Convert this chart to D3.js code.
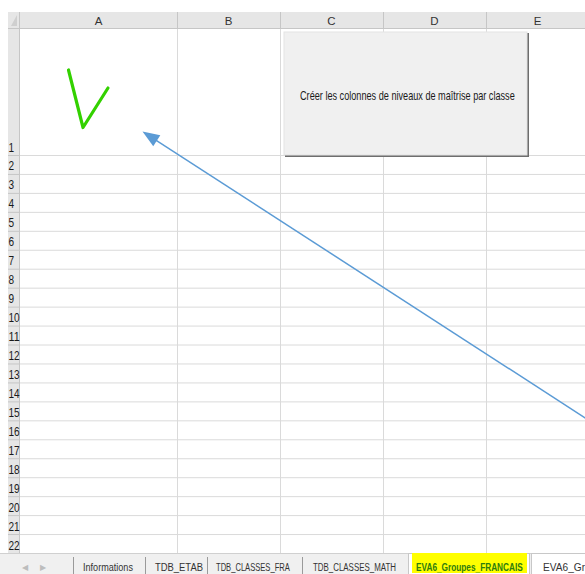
<!DOCTYPE html>
<html><head><meta charset="utf-8">
<script src="https://cdn.jsdelivr.net/npm/d3@7"></script>
<style>html,body{margin:0;padding:0;background:#fff;overflow:hidden}</style>
</head><body>
<script>
// ---- data ----
const columns = ["A", "B", "C", "D", "E"];
const columnEdges = [20, 177, 280, 383, 486, 589];
const rowLabels = ["1","2","3","4","5","6","7","8","9","10","11","12","13","14","15","16","17","18","19","20","21","22"];
const sheetTabs = ["Informations", "TDB_ETAB", "TDB_CLASSES_FRA", "TDB_CLASSES_MATH", "EVA6_Groupes_FRANCAIS", "EVA6_Groupes_MATHS"];
const activeTab = "EVA6_Groupes_FRANCAIS";
const buttonLabel = "Créer les colonnes de niveaux de maîtrise par classe";

const W = 585, H = 574;
const FONT = "'Liberation Sans','DejaVu Sans',sans-serif";
const svg = d3.select("body").append("svg").attr("width", W).attr("height", H)
  .style("font-family", FONT);

// squeeze a text horizontally to a target width (condensed look like Calibri)
function fit(sel, x, y, width) {
  sel.each(function (d) {
    const node = this;
    const nat = node.getComputedTextLength();
    const tx = typeof x === "function" ? x(d) : x;
    const ty = typeof y === "function" ? y(d) : y;
    const tw = typeof width === "function" ? width(d) : width;
    d3.select(node).attr("x", 0).attr("y", 0)
      .attr("transform", `translate(${tx},${ty}) scale(${tw / nat},1)`);
  });
}

const headerTop = 12, headerBottom = 29, gridLeft = 20, rowHeadLeft = 8;
const tabTop = 553;

// scales
const xLeft = d3.scaleOrdinal().domain(columns).range(columnEdges.slice(0, 5));
const xRight = d3.scaleOrdinal().domain(columns).range(columnEdges.slice(1));
const yBottom = d3.scaleLinear().domain([1, 22]).range([155, 553]);

svg.append("rect").attr("x", 0).attr("y", 0).attr("width", W).attr("height", H).attr("fill", "#fff");

// vertical grid lines
svg.append("g").selectAll("line").data(columns).join("line")
  .attr("x1", c => xRight(c) + 0.5).attr("x2", c => xRight(c) + 0.5)
  .attr("y1", headerBottom).attr("y2", tabTop)
  .attr("stroke", "#dadada");
// horizontal grid lines
svg.append("g").selectAll("line").data(rowLabels).join("line")
  .attr("x1", gridLeft).attr("x2", W)
  .attr("y1", d => yBottom(+d) + 0.5).attr("y2", d => yBottom(+d) + 0.5)
  .attr("stroke", "#dadada");

// column header
svg.append("rect").attr("x", rowHeadLeft).attr("y", headerTop).attr("width", W - rowHeadLeft).attr("height", headerBottom - headerTop)
  .attr("fill", "#e6e6e6");
svg.append("line").attr("x1", rowHeadLeft).attr("x2", W).attr("y1", headerBottom - 0.5).attr("y2", headerBottom - 0.5).attr("stroke", "#c6c6c6");
const colG = svg.append("g");
colG.selectAll("line").data(columns).join("line")
  .attr("x1", c => xRight(c) + 0.5).attr("x2", c => xRight(c) + 0.5)
  .attr("y1", headerTop).attr("y2", headerBottom).attr("stroke", "#c6c6c6");
colG.selectAll("text").data(columns).join("text")
  .attr("x", c => (xLeft(c) + xRight(c)) / 2).attr("y", 24.5)
  .attr("text-anchor", "middle").attr("font-size", 11.5).attr("fill", "#333")
  .text(c => c);

// row header
svg.append("rect").attr("x", rowHeadLeft).attr("y", headerBottom).attr("width", gridLeft - rowHeadLeft).attr("height", tabTop - headerBottom)
  .attr("fill", "#e6e6e6");
svg.append("line").attr("x1", gridLeft - 0.5).attr("x2", gridLeft - 0.5).attr("y1", headerTop).attr("y2", tabTop).attr("stroke", "#c6c6c6");
const rowG = svg.append("g");
rowG.selectAll("line").data(rowLabels).join("line")
  .attr("x1", rowHeadLeft).attr("x2", gridLeft)
  .attr("y1", d => yBottom(+d) + 0.5).attr("y2", d => yBottom(+d) + 0.5).attr("stroke", "#c6c6c6");
rowG.selectAll("text").data(rowLabels).join("text")
  .attr("font-size", 12.5).attr("fill", "#1a1a1a")
  .text(d => d)
  .call(fit, rowHeadLeft + 0.5, d => yBottom(+d) - 3.5, d => d.length * 5.6);
// select-all corner triangle
svg.append("path").attr("d", `M${gridLeft - 3},${headerTop + 3} L${gridLeft - 3},${headerBottom - 3} L${rowHeadLeft + 3},${headerBottom - 3} Z`)
  .attr("fill", "#cfcfcf");

// green check mark
const checkPts = [[68.5, 70], [83, 127.5], [108, 88]];
svg.append("path").attr("d", d3.line()(checkPts))
  .attr("fill", "none").attr("stroke", "#33d100").attr("stroke-width", 3.2)
  .attr("stroke-linecap", "round").attr("stroke-linejoin", "round");

// button
const btn = {x: 284, y: 32, w: 244, h: 124};
svg.append("rect").attr("x", btn.x + 1).attr("y", btn.y + 1).attr("width", btn.w).attr("height", btn.h).attr("fill", "#6e6e6e");
svg.append("rect").attr("x", btn.x).attr("y", btn.y).attr("width", btn.w - 1).attr("height", btn.h - 1).attr("fill", "#f0f0f0")
  .attr("stroke", "#e3e3e3").attr("stroke-width", 1);
svg.append("text")
  .attr("font-size", 12).attr("fill", "#1a1a1a")
  .text(buttonLabel)
  .call(fit, 300, 99.5, 215);

// arrow
const tip = [142.5, 131.5], tail = [600, 427.5];
const ang = Math.atan2(tail[1] - tip[1], tail[0] - tip[0]);
const headLen = 17, headHalf = 6.5;
const base = [tip[0] + headLen * Math.cos(ang), tip[1] + headLen * Math.sin(ang)];
svg.append("line").attr("x1", base[0] - 3 * Math.cos(ang)).attr("y1", base[1] - 3 * Math.sin(ang))
  .attr("x2", tail[0]).attr("y2", tail[1]).attr("stroke", "#5b9bd5").attr("stroke-width", 1.5);
const p1 = [base[0] - headHalf * Math.sin(ang), base[1] + headHalf * Math.cos(ang)];
const p2 = [base[0] + headHalf * Math.sin(ang), base[1] - headHalf * Math.cos(ang)];
svg.append("path").attr("d", `M${tip}L${p1}L${p2}Z`).attr("fill", "#5b9bd5");

// tab bar
svg.append("rect").attr("x", 0).attr("y", tabTop).attr("width", W).attr("height", H - tabTop).attr("fill", "#f0f0f0");
svg.append("line").attr("x1", 0).attr("x2", W).attr("y1", tabTop + 0.5).attr("y2", tabTop + 0.5).attr("stroke", "#d0d0d0");
svg.append("text").attr("x", 22).attr("y", 570).attr("font-size", 8).attr("fill", "#bdbdbd").text("◀");
svg.append("text").attr("x", 40).attr("y", 570).attr("font-size", 8).attr("fill", "#bdbdbd").text("▶");

const tabEdges = [73, 145, 207, 302, 408, 531, 680];
const tabTextStart = [83, 155, 216, 313, 416, 543];
const tabTextWidth = [50, 48, 74, 83, 107, 110];
const tabX = d3.scaleOrdinal().domain(sheetTabs).range(tabEdges.slice(0, 6));
const tabX2 = d3.scaleOrdinal().domain(sheetTabs).range(tabEdges.slice(1));
const tabTX = d3.scaleOrdinal().domain(sheetTabs).range(tabTextStart);
const tabTW = d3.scaleOrdinal().domain(sheetTabs).range(tabTextWidth);
const isBoxed = t => t === activeTab || t === sheetTabs[5];
const tabsG = svg.append("g");
tabsG.selectAll("rect.tab").data(sheetTabs.filter(isBoxed)).join("rect").attr("class", "tab")
  .attr("x", t => tabX(t) + 0.5).attr("y", tabTop + 0.5)
  .attr("width", t => tabX2(t) - tabX(t) - 2).attr("height", H - tabTop)
  .attr("fill", "#fff").attr("stroke", "#c8c8c8");
tabsG.selectAll("line.sep").data(sheetTabs.slice(0, 4)).join("line").attr("class", "sep")
  .attr("x1", t => tabX(t) + 0.5).attr("x2", t => tabX(t) + 0.5)
  .attr("y1", 557).attr("y2", H).attr("stroke", "#9a9a9a");
// highlight behind active tab text
tabsG.append("rect").attr("x", 412).attr("y", 553).attr("width", 115).attr("height", 20).attr("fill", "#ffff00");
tabsG.selectAll("text.tabtxt").data(sheetTabs).join("text").attr("class", "tabtxt")
  .attr("font-size", 11)
  .attr("font-weight", t => t === activeTab ? "bold" : "normal")
  .attr("fill", t => t === activeTab ? "#2e7d0e" : "#333")
  .text(t => t)
  .call(fit, t => tabTX(t), 571, t => tabTW(t));
</script>
</body></html>
